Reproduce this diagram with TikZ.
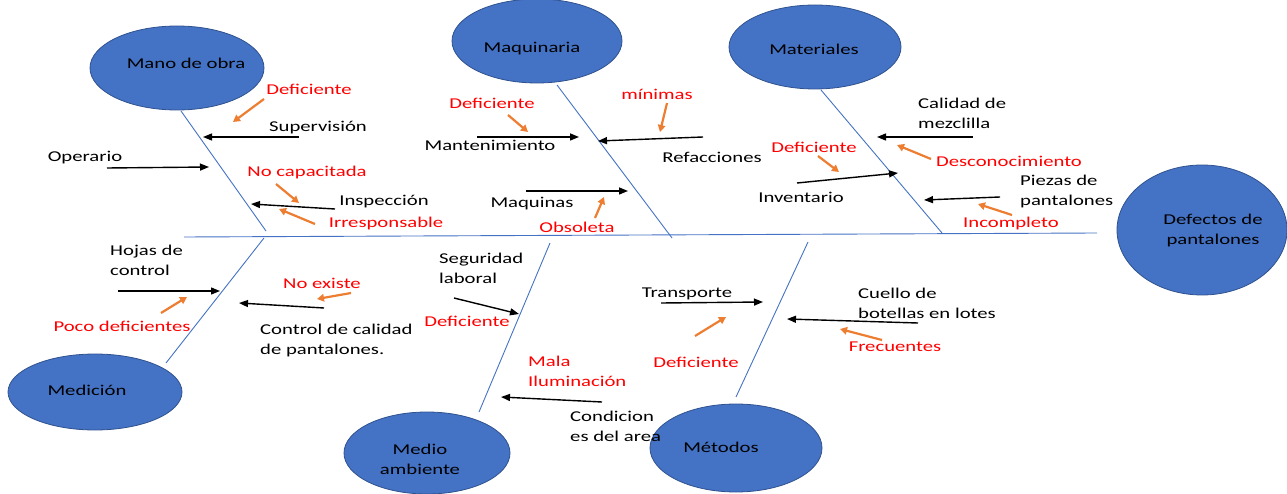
\documentclass[tikz,border=0pt]{standalone}
\usepackage{fontspec}
\setmainfont[FakeStretch=1.38]{Carlito}
\usetikzlibrary{shapes.geometric,arrows.meta}
\definecolor{blueF}{HTML}{4472C4}
\definecolor{blueD}{HTML}{2F528F}
\definecolor{orangeC}{HTML}{ED7D31}
\definecolor{redC}{HTML}{FF0000}
\newcommand\myfs{\fontsize{15}{20}\selectfont}
\tikzset{
  cause/.style={ellipse, draw=blueD, fill=blueF, line width=0.8pt, inner sep=0pt},
  txt/.style={font=\myfs, inner sep=0pt, text=black},
  rtxt/.style={font=\myfs, inner sep=0pt, text=redC},
  mtxt/.style={font=\myfs, inner sep=0pt, align=left, anchor=north west},
  bone/.style={draw=blueF, line width=0.9pt},
  blk/.style={draw=black, line width=1.4pt, -{Triangle[length=9pt,width=7pt]}},
  org/.style={draw=orangeC, line width=2.2pt, -{Triangle[length=7pt,width=7.5pt]}}
}
\begin{document}
\begin{tikzpicture}[x=1pt,y=-1pt]
\useasboundingbox (0,0) rectangle (1287,494);
% cause ellipses
\node[cause, minimum width=174pt, minimum height=84pt] (mano) at (177,68) {};
\node[cause, minimum width=170pt, minimum height=84pt] (maq) at (537,41) {};
\node[cause, minimum width=172pt, minimum height=84pt] (mat) at (815,47) {};
\node[cause, minimum width=170pt, minimum height=130pt] (def) at (1202,230) {};
\node[cause, minimum width=174pt, minimum height=76pt] (medi) at (95,392) {};
\node[cause, minimum width=166pt, minimum height=82pt] (amb) at (427,453) {};
\node[cause, minimum width=172pt, minimum height=88pt] (met) at (736,448) {};
\node[txt] (lmano) at (186,63) {Mano de obra};
\node[txt] (lmaq) at (532,49) {Maquinaria};
\node[txt] (lmat) at (814,49) {Materiales};
\node[txt, align=center] (ldef) at (1213,231) {Defectos de\\pantalones};
\node[txt] (lmedi) at (87,390) {Medición};
\node[txt, align=center] (lamb) at (420,459) {Medio\\ambiente};
\node[txt] (lmet) at (721,447) {Métodos};
% spine and bones
\coordinate (sp1) at (184,237); \coordinate (sp2) at (1097,233);
\draw[bone] (sp1) -- (sp2);
\coordinate (b1s) at (181,111); \coordinate (b1e) at (266,231);
\coordinate (b2s) at (557,85);  \coordinate (b2e) at (672,238);
\coordinate (b3s) at (821,90);  \coordinate (b3e) at (942,233);
\coordinate (b4s) at (264,238); \coordinate (b4e) at (166,363);
\coordinate (b5s) at (550,243); \coordinate (b5e) at (479,412);
\coordinate (b6s) at (808,242); \coordinate (b6e) at (736,397);
\draw[bone] (b1s) -- (b1e);
\draw[bone] (b2s) -- (b2e);
\draw[bone] (b3s) -- (b3e);
\draw[bone] (b4s) -- (b4e);
\draw[bone] (b5s) -- (b5e);
\draw[bone] (b6s) -- (b6e);
% black texts
\node[txt] (t1) at (318,128) {Supervisión};
\node[txt] (t2) at (85,158) {Operario};
\node[txt] (t3) at (384,202) {Inspección};
\node[txt] (t4) at (490,145) {Mantenimiento};
\node[txt] (t5) at (712,157) {Refacciones};
\node[txt] (t6) at (532,204) {Maquinas};
\node[txt] (t8) at (801,197) {Inventario};
\node[txt] (t13) at (687,294) {Transporte};
\node[mtxt] (t7) at (918,98) {Calidad de\\mezclilla};
\node[mtxt] (t9) at (1020,175) {Piezas de\\pantalones};
\node[mtxt] (t10) at (110,245) {Hojas de\\control};
\node[mtxt] (t11) at (260,324) {Control de calidad\\de pantalones.};
\node[mtxt] (t12) at (439,253) {Seguridad\\laboral};
\node[mtxt] (t15) at (570,411) {Condicion\\es del area};
\node[mtxt] (t14) at (858,288) {Cuello de\\botellas en lotes};
% red texts
\node[rtxt] (r1) at (309,89) {Deficiente};
\node[rtxt] (r2) at (307,173) {No capacitada};
\node[rtxt] (r3) at (386,224) {Irresponsable};
\node[rtxt] (r4) at (492,103) {Deficiente};
\node[rtxt] (r5) at (657,94) {mínimas};
\node[rtxt] (r6) at (577,227) {Obsoleta};
\node[rtxt] (r7) at (814,147) {Deficiente};
\node[rtxt] (r8) at (1009,161) {Desconocimiento};
\node[rtxt] (r9) at (1011,224) {Incompleto};
\node[rtxt] (r10) at (122,326) {Poco deficientes};
\node[rtxt] (r11) at (322,283) {No existe};
\node[rtxt] (r12) at (467,321) {Deficiente};
\node[rtxt] (r13) at (696,362) {Deficiente};
\node[rtxt] (r14) at (895,347) {Frecuentes};
\node[mtxt, text=redC] (r15) at (528,356) {Mala\\Iluminación};
% black arrows
\coordinate (a1s) at (299,137);  \coordinate (a1e) at (203,137);
\coordinate (a2s) at (107,168);  \coordinate (a2e) at (209,167);
\coordinate (a3s) at (335,209);  \coordinate (a3e) at (251,204);
\coordinate (a4s) at (477,137);  \coordinate (a4e) at (579,137);
\coordinate (a5s) at (703,137);  \coordinate (a5e) at (598,141);
\coordinate (a6s) at (526,191);  \coordinate (a6e) at (628,191);
\coordinate (a7s) at (973,137);  \coordinate (a7e) at (877,137);
\coordinate (a8s) at (797,183);  \coordinate (a8e) at (898,173);
\coordinate (a9s) at (1000,197); \coordinate (a9e) at (924,200);
\coordinate (a10s) at (118,291); \coordinate (a10e) at (220,291);
\coordinate (a11s) at (324,308); \coordinate (a11e) at (239,303);
\coordinate (a12s) at (454,298); \coordinate (a12e) at (519,314);
\coordinate (a13s) at (661,303); \coordinate (a13e) at (763,302);
\coordinate (a14s) at (918,323); \coordinate (a14e) at (787,319);
\coordinate (a15s) at (602,402); \coordinate (a15e) at (501,397);
\foreach \i in {1,...,15} {\draw[blk] (a\i s) -- (a\i e);}
% orange arrows
\coordinate (o1s) at (264,99);   \coordinate (o1e) at (233,122);
\coordinate (o2s) at (276,184);  \coordinate (o2e) at (299,203);
\coordinate (o3s) at (315,224);  \coordinate (o3e) at (279,209);
\coordinate (o4s) at (508,115);  \coordinate (o4e) at (528,132);
\coordinate (o5s) at (667,103);  \coordinate (o5e) at (660,132);
\coordinate (o6s) at (595,218);  \coordinate (o6e) at (604,197);
\coordinate (o7s) at (818,156);  \coordinate (o7e) at (839,172);
\coordinate (o8s) at (931,159);  \coordinate (o8e) at (897,145);
\coordinate (o9s) at (1012,215); \coordinate (o9e) at (978,204);
\coordinate (o10s) at (161,313); \coordinate (o10e) at (187,297);
\coordinate (o11s) at (351,293); \coordinate (o11e) at (317,299);
\coordinate (o12s) at (695,336); \coordinate (o12e) at (726,317);
\coordinate (o13s) at (882,340); \coordinate (o13e) at (840,329);
\foreach \i in {1,...,13} {\draw[org] (o\i s) -- (o\i e);}
\end{tikzpicture}
\end{document}
